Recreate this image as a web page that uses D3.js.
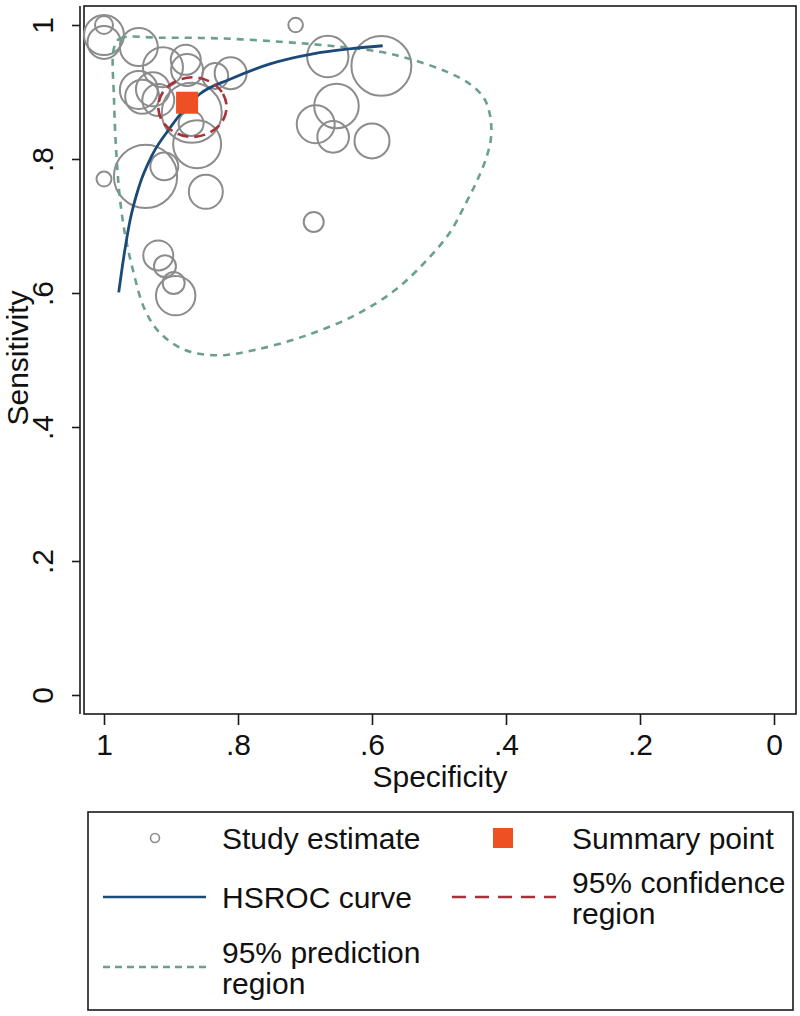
<!DOCTYPE html>
<html>
<head>
<meta charset="utf-8">
<script src="https://cdn.jsdelivr.net/npm/d3@7"></script>
<style>
html,body{margin:0;padding:0;background:#fff;}
svg{display:block;font-family:"Liberation Sans",Arial,sans-serif;}
</style>
</head>
<body>
<svg id="chart" width="800" height="1016"></svg>
<script>
// ---- data ----
const studySpec = [1.000,1.000,1.000,0.948,0.912,0.878,0.876,0.834,0.811,0.948,0.943,0.927,0.919,0.869,0.870,0.861,0.938,0.910,0.848,1.000,0.919,0.909,0.896,0.893,0.714,0.666,0.586,0.653,0.684,0.658,0.600,0.687];
const studySens = [1.000,0.985,0.974,0.967,0.937,0.948,0.933,0.924,0.928,0.903,0.893,0.904,0.888,0.869,0.853,0.822,0.774,0.789,0.751,0.770,0.656,0.640,0.615,0.596,1.000,0.953,0.939,0.879,0.852,0.833,0.827,0.706];
const studyWeight = [81,400,272,361,400,225,256,169,256,361,289,289,256,900,156,576,1000,196,289,56,225,121,121,388,53,428,900,497,361,250,306,100];

const summarySpec = 0.876, summarySens = 0.884;

const hsrocSpec = [0.978,0.970,0.961,0.948,0.928,0.904,0.881,0.857,0.812,0.752,0.688,0.637,0.584];
const hsrocSens = [0.601,0.657,0.709,0.758,0.806,0.843,0.873,0.897,0.919,0.942,0.957,0.964,0.969];

const confSpec = [0.817,0.824,0.843,0.868,0.893,0.912,0.919,0.912,0.893,0.868,0.843,0.824];
const confSens = [0.878,0.900,0.916,0.922,0.916,0.900,0.878,0.855,0.839,0.833,0.839,0.855];

const predSpec = [0.985,0.976,0.916,0.827,0.737,0.663,0.588,0.539,0.488,0.454,0.433,0.424,0.422,0.428,0.443,0.460,0.484,0.521,0.566,0.625,0.700,0.775,0.830,0.879,0.916,0.939,0.958,0.969,0.976,0.981,0.985];
const predSens = [0.966,0.980,0.981,0.980,0.975,0.969,0.960,0.948,0.930,0.912,0.891,0.866,0.836,0.806,0.768,0.734,0.690,0.646,0.604,0.567,0.536,0.515,0.507,0.515,0.540,0.575,0.639,0.690,0.739,0.799,0.888];

const tickValues = [0,0.2,0.4,0.6,0.8,1];
const tickLabels = ["0",".2",".4",".6",".8","1"];
const xTitle = "Specificity";
const yTitle = "Sensitivity";
const legendLabels = [["Study estimate"],["Summary point"],["HSROC curve"],["95% confidence","region"],["95% prediction","region"]];

// ---- styles ----
const C = {
  circle:"#8c8c8c", curve:"#1b4a78", conf:"#a8323a", pred:"#6a9f92", summary:"#ee4f23", axis:"#1a1a1a"
};
const FS = 30;

const svg = d3.select("#chart");
const plot = {l:84, r:796, t:6, b:714};

const x = d3.scaleLinear().domain([1,0]).range([104,774]);
const y = d3.scaleLinear().domain([0,1]).range([695,25]);
const rScale = d3.scaleSqrt().domain([0,1000]).range([0,31.6]);
const fmt = d => tickLabels[tickValues.indexOf(d)];

// plot region border
svg.append("rect").attr("x",plot.l).attr("y",plot.t)
  .attr("width",plot.r-plot.l).attr("height",plot.b-plot.t)
  .attr("fill","none").attr("stroke",C.axis).attr("stroke-width",1.6);
// y axis line (separate)
svg.append("line").attr("x1",80).attr("x2",80).attr("y1",plot.t).attr("y2",plot.b)
  .attr("stroke",C.axis).attr("stroke-width",1.6);

// y axis
const yAxis = svg.append("g").attr("transform","translate(80,0)")
  .call(d3.axisLeft(y).tickValues(tickValues).tickFormat(fmt).tickSize(8).tickSizeOuter(0));
yAxis.select(".domain").remove();
yAxis.selectAll(".tick line").attr("stroke",C.axis).attr("stroke-width",1.6);
yAxis.selectAll(".tick text")
  .attr("x",0).attr("dy",null).attr("y",0)
  .attr("transform","translate(-27,0) rotate(-90)")
  .attr("text-anchor","middle")
  .style("font-size",FS+"px").style("font-family","Liberation Sans, Arial, sans-serif").attr("fill","#111");

// x axis
const xAxis = svg.append("g").attr("transform",`translate(0,${plot.b})`)
  .call(d3.axisBottom(x).tickValues(tickValues).tickFormat(fmt).tickSize(11).tickSizeOuter(0));
xAxis.select(".domain").remove();
xAxis.selectAll(".tick line").attr("stroke",C.axis).attr("stroke-width",1.6);
xAxis.selectAll(".tick text").attr("y",41).attr("dy",null)
  .style("font-size",FS+"px").style("font-family","Liberation Sans, Arial, sans-serif").attr("fill","#111");

// axis titles
svg.append("text").attr("x",(plot.l+plot.r)/2).attr("y",787).attr("text-anchor","middle")
  .style("font-size",FS+"px").attr("fill","#111").text(xTitle);
svg.append("text").attr("transform",`translate(28,${(plot.t+plot.b)/2 - 2}) rotate(-90)`)
  .attr("text-anchor","middle").style("font-size",FS+"px").attr("fill","#111").text(yTitle);

// marks
const g = svg.append("g");
const studies = studySpec.map((s,i)=>({spec:s, sens:studySens[i], w:studyWeight[i]}));
g.selectAll("circle.study").data(studies).join("circle").attr("class","study")
  .attr("cx",d=>x(d.spec)).attr("cy",d=>y(d.sens)).attr("r",d=>rScale(d.w))
  .attr("fill","none").attr("stroke",C.circle).attr("stroke-width",2);

const predPts = predSpec.map((s,i)=>[x(s),y(predSens[i])]);
g.append("path").attr("d",d3.line().curve(d3.curveCatmullRomClosed.alpha(0.5))(predPts))
  .attr("fill","none").attr("stroke",C.pred).attr("stroke-width",2.6).attr("stroke-dasharray","7,6");

const hsPts = hsrocSpec.map((s,i)=>[x(s),y(hsrocSens[i])]);
g.append("path").attr("d",d3.line().curve(d3.curveMonotoneX)(hsPts))
  .attr("fill","none").attr("stroke",C.curve).attr("stroke-width",2.8);

const confPts = confSpec.map((s,i)=>[x(s),y(confSens[i])]);
g.append("path").attr("d",d3.line().curve(d3.curveCatmullRomClosed.alpha(0.5))(confPts))
  .attr("fill","none").attr("stroke",C.conf).attr("stroke-width",2.6).attr("stroke-dasharray","11,6");

g.append("rect").attr("x",x(summarySpec)-11).attr("y",y(summarySens)-11)
  .attr("width",22).attr("height",22).attr("fill",C.summary);

// legend
const L = svg.append("g");
L.append("rect").attr("x",88).attr("y",812).attr("width",705).attr("height",198)
  .attr("fill","none").attr("stroke",C.axis).attr("stroke-width",1.6);
const legendPos = [
  {sx:155, tx:222, y:838},
  {sx:503, tx:572, y:838},
  {sx:155, tx:222, y:897},
  {sx:503, tx:572, y:897},
  {sx:155, tx:222, y:967}
];
// symbols
L.append("circle").attr("cx",legendPos[0].sx).attr("cy",legendPos[0].y).attr("r",4.5)
  .attr("fill","none").attr("stroke",C.circle).attr("stroke-width",1.6);
L.append("rect").attr("x",legendPos[1].sx-10).attr("y",legendPos[1].y-10).attr("width",20).attr("height",20).attr("fill",C.summary);
L.append("line").attr("x1",103).attr("x2",206).attr("y1",legendPos[2].y).attr("y2",legendPos[2].y)
  .attr("stroke",C.curve).attr("stroke-width",2.6);
L.append("line").attr("x1",452).attr("x2",556).attr("y1",legendPos[3].y).attr("y2",legendPos[3].y)
  .attr("stroke",C.conf).attr("stroke-width",2.6).attr("stroke-dasharray","14,9");
L.append("line").attr("x1",103).attr("x2",206).attr("y1",legendPos[4].y).attr("y2",legendPos[4].y)
  .attr("stroke",C.pred).attr("stroke-width",2.4).attr("stroke-dasharray","7,5");
// labels
legendLabels.forEach((lines,i)=>{
  const p = legendPos[i];
  const n = lines.length;
  const t = L.append("text").attr("x",p.tx).style("font-size",FS+"px").attr("fill","#111");
  lines.forEach((ln,j)=>{
    t.append("tspan").attr("x",p.tx).attr("y",p.y + 11 + (j-(n-1)/2)*31).text(ln);
  });
});
</script>
</body>
</html>
